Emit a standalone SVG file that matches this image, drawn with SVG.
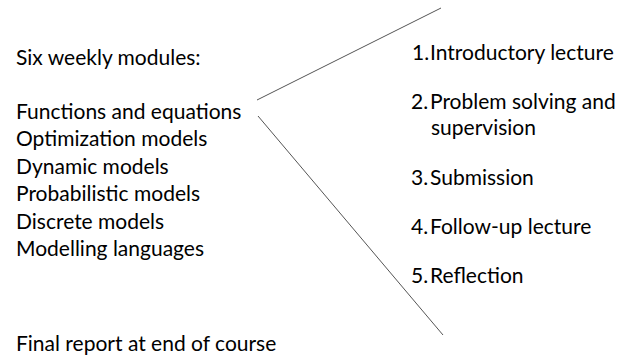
<svg xmlns="http://www.w3.org/2000/svg" width="621" height="356" viewBox="0 0 621 356">
  <style>
    text { font-family: Lato, "Open Sans", sans-serif; font-size: 21px; fill: #000; }
    .conn { stroke: #555; stroke-width: 1; fill: none; }
  </style>
  <rect width="621" height="356" fill="#fff"/>

  <g id="modules">
    <text x="16" y="65">Six weekly modules:</text>
    <text x="16" y="118.5">Functions and equations</text>
    <text x="16" y="146">Optimization models</text>
    <text x="16" y="173.5">Dynamic models</text>
    <text x="16" y="201">Probabilistic models</text>
    <text x="16" y="228.5">Discrete models</text>
    <text x="16" y="256">Modelling languages</text>
  </g>

  <g id="final-report">
    <text x="16" y="350.5">Final report at end of course</text>
  </g>

  <g id="connectors">
    <line class="conn" x1="257" y1="100" x2="441" y2="8"/>
    <line class="conn" x1="258" y1="116" x2="443" y2="335"/>
  </g>

  <g id="steps">
    <g id="step1"><text x="412" y="60">1.</text><text x="430" y="60">Introductory lecture</text></g>
    <g id="step2"><text x="411" y="109">2.</text><text x="430" y="109">Problem solving and</text><text x="431" y="135">supervision</text></g>
    <g id="step3"><text x="411" y="185">3.</text><text x="430" y="185">Submission</text></g>
    <g id="step4"><text x="411" y="234">4.</text><text x="430" y="234">Follow-up lecture</text></g>
    <g id="step5"><text x="411" y="283">5.</text><text x="430" y="283">Reflection</text></g>
  </g>
</svg>
